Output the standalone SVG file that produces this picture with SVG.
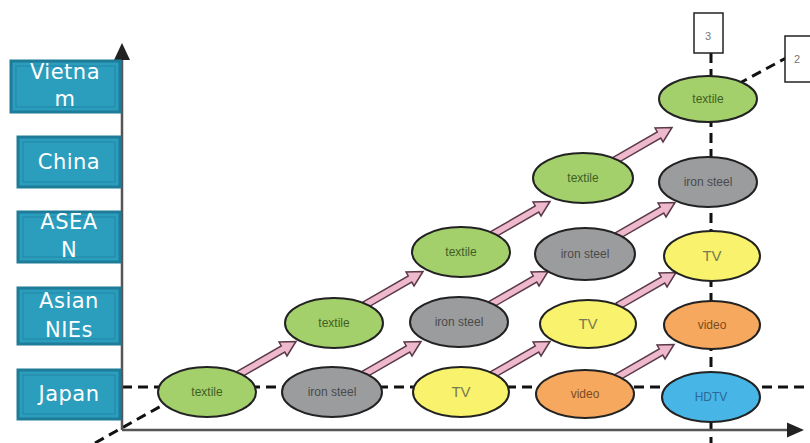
<svg xmlns="http://www.w3.org/2000/svg" width="810" height="443" viewBox="0 0 810 443">
<style>
.lbl rect.o{fill:#2b9dbd;stroke:#1e7c98;stroke-width:3}
.lbl rect.i{fill:none;stroke:#2386a4;stroke-width:1}
.lbl text{font-family:"DejaVu Sans",sans-serif;font-size:21px;fill:#ffffff;text-anchor:middle;letter-spacing:0.5px}
.dash{stroke:#111;stroke-width:3;stroke-dasharray:10 6;fill:none}
.axis{stroke:#555;stroke-width:2.5;fill:none}
.nd ellipse{stroke:#222;stroke-width:2}
.nd text{font-family:"Liberation Sans",Arial,sans-serif;font-size:12px;text-anchor:middle}
.g ellipse{fill:#a4d06c}.g text{fill:#3f5f22}
.s ellipse{fill:#9b9c9e}.s text{fill:#4a4a4a}
.y ellipse{fill:#f8f26c}.y text{fill:#7a7a50;font-size:15px}
.o ellipse{fill:#f6a95e}.o text{fill:#7a4b22}
.b ellipse{fill:#47b6e6}.b text{fill:#2b6a96}
.arr{fill:#efb9cd;stroke:#5a3a48;stroke-width:1.5}
.tag rect{fill:#fff;stroke:#222;stroke-width:1.5}
.tag text{font-family:"Liberation Sans",Arial,sans-serif;font-size:11px;fill:#777;text-anchor:middle}
</style>
<defs>
<path id="ar" d="M0,-3.5 L52,-3.5 L52,-8 L67,0 L52,8 L52,3.5 L0,3.5 Z"/>
</defs>
<rect width="810" height="443" fill="#fff"/>

<g id="connectors">
  <line class="dash" x1="95" y1="443" x2="170" y2="401"/>
  <line class="dash" x1="738" y1="84" x2="786" y2="58"/>
  <line class="dash" x1="122" y1="387" x2="810" y2="387"/>
  <line class="dash" x1="711" y1="53" x2="711" y2="443"/>
  <line class="axis" x1="122" y1="58" x2="122" y2="430"/>
  <polygon points="122,43 114,60 130,60" fill="#222"/>
  <line class="axis" x1="122" y1="430" x2="790" y2="430"/>
  <polygon points="804,430 787,422.5 787,437.5" fill="#222"/>
</g>

<g id="label-vietnam" class="lbl">
  <rect class="o" x="11" y="61" width="109" height="51"/>
  <rect class="i" x="16" y="66" width="99" height="41"/>
  <text x="65" y="79">Vietna</text>
  <text x="65" y="106">m</text>
</g>
<g id="label-china" class="lbl">
  <rect class="o" x="18" y="137" width="102" height="50"/>
  <rect class="i" x="23" y="142" width="92" height="40"/>
  <text x="69" y="169">China</text>
</g>
<g id="label-asean" class="lbl">
  <rect class="o" x="18" y="212" width="102" height="50"/>
  <rect class="i" x="23" y="217" width="92" height="40"/>
  <text x="69" y="229">ASEA</text>
  <text x="69" y="257">N</text>
</g>
<g id="label-nies" class="lbl">
  <rect class="o" x="18" y="288" width="102" height="56"/>
  <rect class="i" x="23" y="293" width="92" height="46"/>
  <text x="69" y="308">Asian</text>
  <text x="69" y="337">NIEs</text>
</g>
<g id="label-japan" class="lbl">
  <rect class="o" x="18" y="370" width="102" height="49"/>
  <rect class="i" x="23" y="375" width="92" height="39"/>
  <text x="69" y="401">Japan</text>
</g>

<g id="tag-3" class="tag">
  <rect x="694" y="13" width="29" height="40"/>
  <text x="708" y="40">3</text>
</g>
<g id="tag-2" class="tag">
  <rect x="785" y="36" width="26" height="46"/>
  <text x="797" y="63">2</text>
</g>

<g id="arrows">
  <use href="#ar" class="arr" transform="translate(238,375) rotate(-30)"/>
  <use href="#ar" class="arr" transform="translate(365,305) rotate(-30)"/>
  <use href="#ar" class="arr" transform="translate(492,235) rotate(-30)"/>
  <use href="#ar" class="arr" transform="translate(614,161) rotate(-30)"/>
  <use href="#ar" class="arr" transform="translate(363,375) rotate(-30)"/>
  <use href="#ar" class="arr" transform="translate(490,305) rotate(-30)"/>
  <use href="#ar" class="arr" transform="translate(617,236) rotate(-30)"/>
  <use href="#ar" class="arr" transform="translate(492,375) rotate(-30)"/>
  <use href="#ar" class="arr" transform="translate(618,306) rotate(-30)"/>
  <use href="#ar" class="arr" transform="translate(616,378) rotate(-30)"/>
</g>

<g id="jp-textile" class="nd g"><ellipse cx="207" cy="392" rx="49" ry="25"/><text x="207" y="396">textile</text></g>
<g id="jp-iron" class="nd s"><ellipse cx="332" cy="392" rx="50" ry="25"/><text x="332" y="396">iron steel</text></g>
<g id="jp-tv" class="nd y"><ellipse cx="461" cy="392" rx="48" ry="25"/><text x="461" y="397">TV</text></g>
<g id="jp-video" class="nd o"><ellipse cx="585" cy="394" rx="49" ry="24"/><text x="585" y="398">video</text></g>
<g id="jp-hdtv" class="nd b"><ellipse cx="711" cy="397" rx="49" ry="25"/><text x="711" y="401">HDTV</text></g>

<g id="nie-textile" class="nd g"><ellipse cx="334" cy="323" rx="49" ry="25"/><text x="334" y="327">textile</text></g>
<g id="nie-iron" class="nd s"><ellipse cx="459" cy="322" rx="49" ry="25"/><text x="459" y="326">iron steel</text></g>
<g id="nie-tv" class="nd y"><ellipse cx="588" cy="324" rx="48" ry="24"/><text x="588" y="329">TV</text></g>
<g id="nie-video" class="nd o"><ellipse cx="712" cy="325" rx="48" ry="24"/><text x="712" y="329">video</text></g>

<g id="asean-textile" class="nd g"><ellipse cx="461" cy="252" rx="49" ry="25"/><text x="461" y="256">textile</text></g>
<g id="asean-iron" class="nd s"><ellipse cx="585" cy="254" rx="50" ry="26"/><text x="585" y="258">iron steel</text></g>
<g id="asean-tv" class="nd y"><ellipse cx="712" cy="256" rx="48" ry="25"/><text x="712" y="261">TV</text></g>

<g id="china-textile" class="nd g"><ellipse cx="583" cy="178" rx="50" ry="25"/><text x="583" y="182">textile</text></g>
<g id="china-iron" class="nd s"><ellipse cx="708" cy="182" rx="49" ry="25"/><text x="708" y="186">iron steel</text></g>

<g id="vn-textile" class="nd g"><ellipse cx="708" cy="99" rx="49" ry="23"/><text x="708" y="103">textile</text></g>
</svg>
